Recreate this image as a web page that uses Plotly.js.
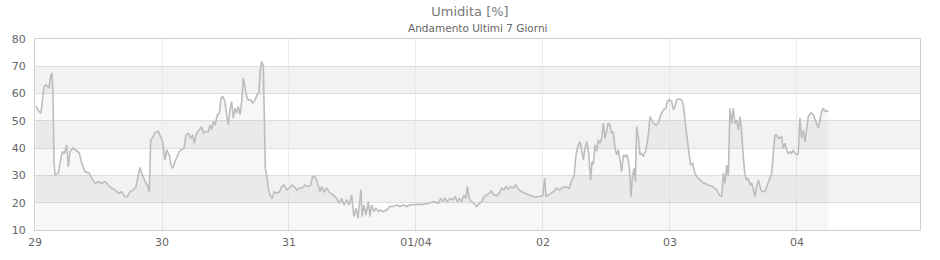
<!DOCTYPE html>
<html>
<head>
<meta charset="utf-8">
<script src="https://cdn.plot.ly/plotly-3.0.1.min.js"></script>
<style>html,body{margin:0;padding:0;background:#fff}#chart{width:940px;height:260px}</style>
</head>
<body>
<div id="chart"></div>
<script>
// Start of the 7-day window
const startDate = '2024-03-29T00:00:00';
// Sample times, hours after startDate
const hours = [0.19,0.63,1.13,1.39,1.70,2.08,2.33,2.65,2.96,3.21,3.40,3.59,3.78,4.41,4.72,5.17,5.54,5.98,6.30,6.61,7.24,7.87,8.37,8.82,9.45,10.27,10.71,11.34,11.97,12.60,13.23,13.86,14.49,15.12,15.75,16.38,17.01,17.45,17.95,18.58,19.09,19.53,19.84,20.28,20.79,21.23,21.61,21.86,22.24,22.68,23.31,
24.13,24.57,24.88,25.38,25.70,26.02,26.46,26.89,27.27,27.72,28.16,28.54,28.98,29.42,29.80,30.11,30.55,31.06,31.50,31.81,32.25,32.76,33.07,33.39,33.70,34.02,34.46,34.84,35.15,35.47,35.91,36.22,36.54,36.85,37.17,37.48,37.80,38.11,38.43,38.74,39.06,39.37,39.69,40.00,40.31,40.76,41.14,41.57,42.01,42.33,42.52,42.84,43.15,43.34,43.53,43.78,44.09,44.41,44.85,45.17,45.67,46.17,46.61,47.06,47.56,48.06,48.50,49.01,49.44,49.95,
50.39,51.02,51.65,52.09,52.47,52.91,53.35,53.86,54.17,54.61,55.12,55.75,56.38,57.01,57.51,57.96,58.39,58.90,59.40,59.84,60.28,60.66,61.04,61.61,61.80,62.17,62.55,62.99,63.31,63.62,64.06,64.44,64.88,65.32,65.83,66.46,67.09,67.72,68.35,68.98,69.61,70.24,70.87,72.13,73.39,74.52,
75.28,76.22,76.67,77.05,77.48,77.92,78.43,78.94,79.37,79.81,80.19,80.63,81.07,81.45,81.70,82.08,82.52,82.96,83.46,83.96,84.41,84.85,85.35,85.86,86.30,86.74,87.24,87.75,88.19,88.63,89.01,89.45,89.89,90.39,90.84,91.34,91.97,92.60,93.23,94.17,95.12,95.94,96.32,96.57,97.01,97.64,97.95,98.58,99.09,
99.53,100.16,100.98,101.43,101.86,102.24,102.68,103.00,103.31,103.62,103.94,104.26,104.57,104.76,105.02,105.26,105.51,105.83,106.15,106.46,106.77,107.09,107.40,107.72,108.04,108.35,108.66,108.98,109.29,109.61,109.92,110.24,110.55,110.87,111.18,111.50,111.81,112.13,112.44,112.63,112.88,113.20,113.45,113.70,114.02,114.33,114.65,114.96,115.46,115.91,116.22,116.54,116.85,117.35,117.80,118.24,118.74,119.24,119.50,119.87,120.32,120.63,120.94,121.26,121.76,122.20,122.52,
122.83,123.21,123.59,123.91,124.29,124.72,125.29,126.24,127.18,128.13,128.83,129.32,129.78,130.08,130.39,130.72,131.02,131.34,131.66,131.96,132.28,132.61,132.91,133.23,133.55,133.85,134.17,134.49,134.80,135.12,135.44,135.74,136.06,136.38,136.69,137.01,137.33,137.95,138.58,139.22,139.52,139.84,140.16,140.46,141.10,141.41,141.73,142.05,142.35,142.68,143.00,143.30,143.62,143.94,144.25,144.57,144.88,145.20,145.51,145.83,146.14,146.60,147.09,147.59,148.03,148.35,148.67,148.98,149.29,149.61,149.92];
// Relative humidity, %
const humidity = [55.5,53.7,52.8,57.0,62.6,63.2,62.6,62.0,66.3,67.5,60.2,35.0,30.2,30.8,34.5,38.8,38.0,41.2,33.2,38.8,40.0,38.8,38.2,34.5,31.4,30.8,29.0,27.1,27.7,27.1,27.7,26.5,25.3,24.7,23.5,24.0,22.2,22.2,24.0,24.7,25.9,30.2,32.9,30.2,27.7,26.5,24.0,43.0,43.9,45.7,46.1,
42.4,35.7,39.4,37.5,33.9,32.6,35.1,36.9,38.8,39.4,40.0,44.9,45.5,43.6,44.9,41.8,45.5,46.7,47.9,45.5,46.1,46.1,48.5,46.7,49.8,48.5,52.2,52.8,58.3,58.9,57.1,52.2,48.5,54.0,57.1,51.0,54.7,52.8,55.3,52.2,57.1,65.7,62.6,58.9,57.7,57.7,56.5,57.7,59.6,60.8,68.1,71.8,70.0,51.0,32.6,30.2,25.3,22.8,21.6,24.0,23.5,24.0,25.9,26.5,24.7,25.3,26.5,25.9,24.7,25.3,
25.3,26.5,25.9,26.5,29.6,29.6,27.7,24.0,25.9,24.0,25.3,23.5,22.8,21.6,19.8,21.6,19.2,21.0,19.2,22.8,14.9,18.0,14.3,24.7,14.9,19.2,15.5,20.4,14.9,19.2,16.7,18.0,16.7,17.3,16.7,17.3,18.6,18.6,19.2,18.6,19.2,18.6,19.2,19.4,19.4,19.8,
20.4,19.8,21.6,20.4,21.6,20.4,21.6,21.0,22.2,20.4,21.6,20.4,22.8,21.6,25.9,21.6,20.4,19.8,18.6,19.8,20.4,22.2,22.8,23.5,24.3,22.8,22.6,23.5,25.3,24.7,25.9,25.0,25.9,25.5,26.5,25.0,24.0,23.5,23.1,22.2,22.2,22.6,29.0,22.2,22.8,23.5,24.0,25.3,24.7,
25.3,25.9,25.3,28.3,29.6,37.5,41.2,42.4,39.4,35.7,40.0,42.4,39.4,34.5,28.3,35.1,33.9,41.2,38.8,43.0,41.8,43.6,49.2,43.6,46.1,49.2,48.5,45.5,46.1,40.0,37.5,39.4,35.7,31.4,37.5,36.9,37.5,35.7,30.2,22.2,29.0,32.6,27.7,47.9,44.3,37.5,38.1,36.9,39.4,44.9,51.6,50.4,49.2,48.5,49.2,52.2,54.0,54.7,57.1,57.7,57.1,54.0,55.3,57.7,58.1,57.7,55.9,
50.3,43.0,38.1,33.8,34.4,30.8,29.0,27.4,26.5,25.9,24.7,22.8,22.2,30.8,27.1,33.8,29.6,54.6,49.1,54.6,49.1,50.3,46.7,51.6,45.5,36.9,30.2,28.3,28.9,26.5,27.1,25.3,22.2,25.9,28.3,25.9,24.1,24.1,27.1,30.8,38.1,44.8,44.8,43.6,44.2,39.9,41.8,39.3,38.1,38.7,38.1,39.3,38.1,37.5,38.1,51.0,43.6,46.7,42.4,47.9,51.6,53.0,52.2,49.7,47.3,50.3,53.4,54.6,53.4,53.8,53.4];
// Day ticks
const tickDates = ['2024-03-29','2024-03-30','2024-03-31','2024-04-01','2024-04-02','2024-04-03','2024-04-04'];
const tickLabels = ['29','30','31','01/04','02','03','04'];
const yTicks = [10,20,30,40,50,60,70,80];
const bandRanges = [[20,30],[40,50],[60,70]];
const xRange = ['2024-03-29 00:00','2024-04-04 23:15'];

function fmt(d){
  const p = n => String(n).padStart(2,'0');
  return d.getUTCFullYear()+'-'+p(d.getUTCMonth()+1)+'-'+p(d.getUTCDate())+' '+p(d.getUTCHours())+':'+p(d.getUTCMinutes())+':'+p(d.getUTCSeconds());
}
const base = Date.parse(startDate+'Z');
const xs = hours.map(h => fmt(new Date(base + h*3600000)));

const trace = {
  x: xs, y: humidity, type: 'scatter', mode: 'lines',
  line: {color: '#bdbdbd', width: 1.6},
  fill: 'tozeroy', fillcolor: 'rgba(0,0,0,0.03)',
  hoverinfo: 'x+y'
};

const shapes = bandRanges.map(b => ({
  type: 'rect', xref: 'paper', yref: 'y', x0: 0, x1: 1, y0: b[0], y1: b[1],
  fillcolor: 'rgba(0,0,0,0.05)', line: {width: 0}, layer: 'below'
}));

const font = 'DejaVu Sans, sans-serif';
const layout = {
  width: 940, height: 260,
  margin: {l: 35, r: 20, t: 39, b: 30},
  paper_bgcolor: '#ffffff', plot_bgcolor: '#ffffff',
  showlegend: false,
  font: {family: font, size: 11, color: '#666'},
  title: {text: 'Umidita [%]', font: {family: font, size: 13, color: '#7a7a7a'}, x: 0.5, xanchor: 'center', y: 0.955, yanchor: 'middle', yref: 'container'},
  annotations: [{text: 'Andamento Ultimi 7 Giorni', xref: 'paper', yref: 'paper', x: 0.5, y: 1, xanchor: 'center', yanchor: 'bottom', yshift: 3, showarrow: false, font: {family: font, size: 10.5, color: '#666'}}],
  xaxis: {
    type: 'date', range: xRange, tickvals: tickDates, ticktext: tickLabels,
    showgrid: true, gridcolor: '#e8e8f6', gridwidth: 1,
    showline: true, linecolor: '#d0d0d0', linewidth: 1, mirror: true,
    ticks: '', ticklabelstandoff: 2, tickfont: {family: font, size: 11, color: '#666'}, zeroline: false, fixedrange: true
  },
  yaxis: {
    range: [10, 80], tickvals: yTicks,
    showgrid: true, gridcolor: '#dddddd', gridwidth: 1,
    showline: true, linecolor: '#d0d0d0', linewidth: 1, mirror: true,
    ticks: '', ticklabelstandoff: 6, tickfont: {family: font, size: 11, color: '#666'}, zeroline: false, fixedrange: true
  },
  shapes: shapes
};

Plotly.newPlot('chart', [trace], layout, {displayModeBar: false, staticPlot: true});
</script>
</body>
</html>
